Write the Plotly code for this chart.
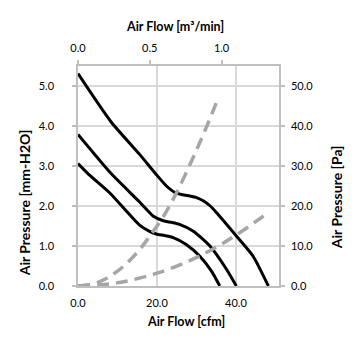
import plotly.graph_objects as go

# Fan P-Q curves (Air Flow [cfm] vs Air Pressure [mm-H2O])
fan_high_cfm = [0, 8.4, 15.6, 19.8, 22.4, 24.5, 26.5, 28.3, 30.0, 31.7, 33.5, 35.1, 40.1, 44.3, 48.2]
fan_high_p = [5.31, 4.1, 3.29, 2.79, 2.5, 2.34, 2.28, 2.25, 2.21, 2.13, 2.0, 1.83, 1.25, 0.75, 0]

fan_mid_cfm = [0, 8.4, 15.6, 19.0, 21.6, 23.7, 25.7, 29.2, 33.4, 37.6, 40.1]
fan_mid_p = [3.79, 2.81, 2.1, 1.75, 1.63, 1.59, 1.54, 1.37, 1.0, 0.42, 0]

fan_low_cfm = [0, 2.5, 8.0, 15.6, 18.0, 19.8, 22.0, 24.1, 27.4, 30.8, 33.8, 35.9]
fan_low_p = [3.06, 2.81, 2.33, 1.52, 1.37, 1.3, 1.26, 1.21, 1.04, 0.75, 0.37, 0]

# System impedance curves
sys_steep_cfm = [0, 5, 10, 15, 18.2, 21.5, 24.9, 29.1, 32, 35]
sys_steep_p = [0, 0.09, 0.37, 0.84, 1.25, 1.72, 2.32, 3.2, 3.85, 4.57]

sys_shallow_cfm = [0, 10, 20, 29.1, 35, 40, 47]
sys_shallow_p = [0, 0.08, 0.32, 0.67, 0.97, 1.27, 1.75]

# Axis ticks
left_ticks = [0, 1, 2, 3, 4, 5]
right_ticks = [0, 10, 20, 30, 40, 50]
bottom_ticks = [0, 20, 40]
top_ticks = [0, 0.5, 1.0]

FONT = "Lato"
GRID = "#d9d9d9"
AXIS = "#bfbfbf"

fig = go.Figure()
for xs, ys in [(fan_high_cfm, fan_high_p), (fan_mid_cfm, fan_mid_p), (fan_low_cfm, fan_low_p)]:
    fig.add_trace(go.Scatter(x=xs, y=ys, mode="lines",
                             line=dict(color="black", width=3, shape="spline", smoothing=0.6),
                             showlegend=False, hoverinfo="skip"))
for xs, ys in [(sys_steep_cfm, sys_steep_p), (sys_shallow_cfm, sys_shallow_p)]:
    fig.add_trace(go.Scatter(x=xs, y=ys, mode="lines",
                             line=dict(color="#a6a6a6", width=3.5, shape="spline", dash="12px,7px"),
                             showlegend=False, hoverinfo="skip"))

# dummy traces to activate secondary axes
fig.add_trace(go.Scatter(x=[None], y=[None], xaxis="x2", yaxis="y", showlegend=False))
fig.add_trace(go.Scatter(x=[None], y=[None], xaxis="x", yaxis="y2", showlegend=False))

tickfont = dict(family=FONT, size=11, color="#000000")

fig.update_layout(
    width=355, height=355,
    margin=dict(l=78, r=76, t=66, b=69, autoexpand=False),
    paper_bgcolor="white", plot_bgcolor="white",
    xaxis=dict(range=[0, 50.9], tickvals=bottom_ticks, tickformat=".1f",
               showgrid=True, gridcolor=GRID, gridwidth=1.5,
               showline=True, linecolor=AXIS, linewidth=1.5, automargin=False,
               ticks="", tickfont=tickfont, ticklabelstandoff=6, zeroline=False),
    xaxis2=dict(range=[0, 1.4], tickvals=top_ticks, tickformat=".1f",
                overlaying="x", side="top", showgrid=False, automargin=False,
                showline=True, linecolor=AXIS, linewidth=1.5,
                ticks="outside", ticklen=4, tickcolor=AXIS, tickwidth=1.5,
                tickfont=tickfont, ticklabelstandoff=4, zeroline=False),
    yaxis=dict(range=[0, 5.5], tickvals=left_ticks, tickformat=".1f",
               showgrid=True, gridcolor=GRID, gridwidth=1.5, automargin=False,
               showline=True, linecolor=AXIS, linewidth=1.5,
               ticks="outside", ticklen=4, tickcolor=AXIS, tickwidth=1.5,
               tickfont=tickfont, ticklabelstandoff=16, zeroline=False),
    yaxis2=dict(range=[0, 55], tickvals=right_ticks, tickformat=".1f",
                overlaying="y", side="right", showgrid=False, automargin=False,
                showline=True, linecolor=AXIS, linewidth=1.5,
                ticks="outside", ticklen=4, tickcolor=AXIS, tickwidth=1.5,
                tickfont=tickfont, ticklabelstandoff=4, zeroline=False),
)

titlefont = dict(family=FONT, size=12.5, color="#000000", weight="bold")
vtitlefont = dict(family=FONT, size=14, color="#000000", weight="bold")
fig.add_annotation(text="Air Flow [m\u00b3/min]", xref="paper", yref="paper", x=0.485, y=1.179,
                   showarrow=False, font=titlefont, xanchor="center", yanchor="middle")
fig.add_annotation(text="Air Flow [cfm]", xref="paper", yref="paper", x=0.537, y=-0.162,
                   showarrow=False, font=titlefont, xanchor="center", yanchor="middle")
fig.add_annotation(text="Air Pressure [mm-H2O]", xref="paper", yref="paper", x=-0.269, y=0.38,
                   showarrow=False, font=vtitlefont, textangle=-90, xanchor="center", yanchor="middle")
fig.add_annotation(text="Air Pressure [Pa]", xref="paper", yref="paper", x=1.29, y=0.405,
                   showarrow=False, font=vtitlefont, textangle=-90, xanchor="center", yanchor="middle")

fig.write_html("out.html", config={"displayModeBar": False},
               post_script="document.body.style.margin='0';")
